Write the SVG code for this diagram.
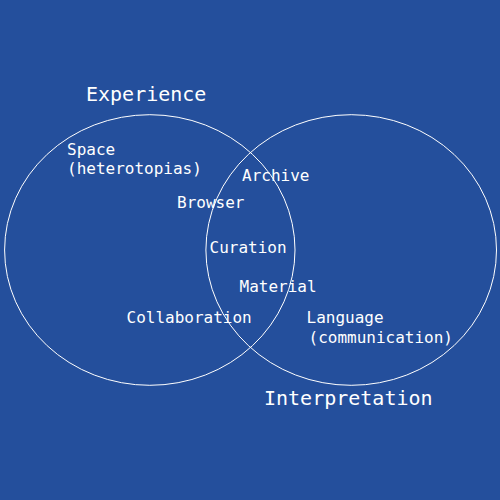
<svg xmlns="http://www.w3.org/2000/svg" width="500" height="500" viewBox="0 0 500 500">
<style>
.bg{fill:#244F9C}
.set{fill:none;stroke:#ffffff;stroke-width:1}
.t{font-family:"DejaVu Sans Mono","Liberation Mono",monospace;fill:#ffffff;font-size:16px}
.big{font-size:20px}
</style>
<rect class="bg" x="0" y="0" width="500" height="500"/>
<g id="set-experience">
<ellipse class="set" cx="149.8" cy="250" rx="145.2" ry="135.3"/>
<text class="t big" x="86" y="101">Experience</text>
</g>
<g id="set-interpretation">
<ellipse class="set" cx="351.2" cy="250" rx="145.3" ry="135.3"/>
<text class="t big" x="264" y="405">Interpretation</text>
</g>
<g id="labels">
<text class="t" x="67" y="155">Space</text>
<text class="t" x="67" y="174">(heterotopias)</text>
<text class="t" x="242" y="181">Archive</text>
<text class="t" x="177" y="208">Browser</text>
<text class="t" x="209.5" y="252.5">Curation</text>
<text class="t" x="239.5" y="292">Material</text>
<text class="t" x="126.5" y="323">Collaboration</text>
<text class="t" x="306.5" y="323">Language</text>
<text class="t" x="308.5" y="343">(communication)</text>
</g>
<g id="connectors"></g>
</svg>
